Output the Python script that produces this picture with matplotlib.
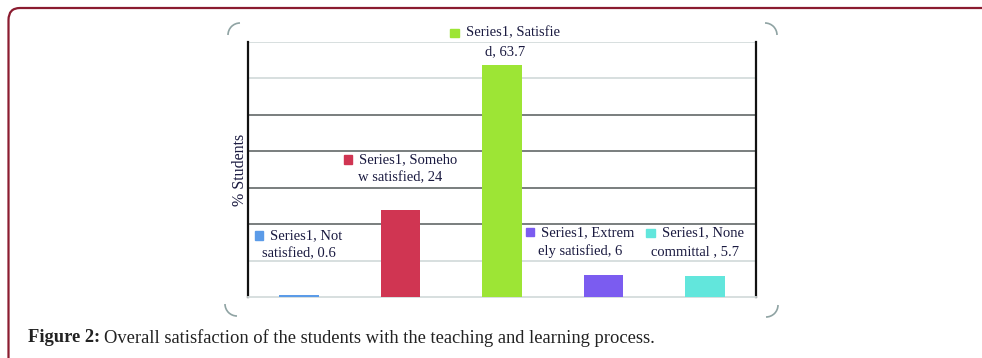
import matplotlib.pyplot as plt
from matplotlib.patches import Arc, Rectangle
from matplotlib.path import Path
from matplotlib.patches import PathPatch
from matplotlib.offsetbox import (AnnotationBbox, DrawingArea, HPacker,
                                  TextArea, VPacker)

# Survey results: share of students per satisfaction level
categories = ['Not satisfied', 'Somehow satisfied', 'Satisfied',
              'Extremely satisfied', 'None committal']
percent = [0.6, 24, 63.7, 6, 5.7]
series_name = 'Series1'
label_lines = [
    ('Series1, Not', 'satisfied, 0.6'),
    ('Series1, Someho', 'w satisfied, 24'),
    ('Series1, Satisfie', 'd, 63.7'),
    ('Series1, Extrem', 'ely satisfied, 6'),
    ('Series1, None', 'committal , 5.7'),
]
label_pos = [(0.0, 14.3), (1.0, 35.2), (2.03, 70.0), (2.77, 15.1), (3.9, 15.1)]
colors = ['#5b9be8', '#d03552', '#9de535', '#7b5cf0', '#62e6dc']
y_ticks = [0, 10, 20, 30, 40, 50, 60, 70]

W, H = 982, 358
fig = plt.figure(figsize=(W / 100, H / 100), dpi=100)

# background layer in pixel coordinates for the frame and caption
bg = fig.add_axes([0, 0, 1, 1], zorder=0)
bg.set_xlim(0, W)
bg.set_ylim(H, 0)
bg.axis('off')

frame = Path([(8.5, H), (8.5, 20), (8.5, 8), (20, 8), (W, 8)],
             [Path.MOVETO, Path.LINETO, Path.CURVE3, Path.CURVE3, Path.LINETO])
bg.add_patch(PathPatch(frame, fill=False, edgecolor='#8b1c30', lw=1.6))

# rounded corners of the chart area
for (cx, cy, t1, t2) in [(240, 35, 180, 270), (765, 35, 270, 360),
                         (237, 304, 90, 180), (766, 305, 0, 90)]:
    bg.add_patch(Arc((cx, cy), 24, 24, theta1=t1, theta2=t2,
                     color='#8fa3a3', lw=1.2))

# caption
cap_y = 338
cap_font = dict(family='Liberation Serif', fontsize=13.3, color='#222222')
bold = bg.text(28, cap_y, 'Figure 2:', fontweight='bold', va='center',
               **cap_font)
r = fig.canvas.get_renderer()
bb = bold.get_window_extent(renderer=r)
bg.text(bb.x1 + 4, H - cap_y, 'Overall satisfaction of the students with the '
        'teaching and learning process.', transform=None, va='center',
        **cap_font)

# bar chart
ax = fig.add_axes([248 / W, (H - 297) / H, 508 / W, 255 / H], zorder=1)
ax.patch.set_alpha(0)
x = list(range(len(categories)))
ax.bar(x, percent, width=0.39, color=colors, zorder=3)
ax.set_xlim(-0.5, len(categories) - 0.5)
ax.set_ylim(0, 70)

for v in y_ticks[1:]:
    c = '#6e7474' if 20 <= v <= 50 else '#d4dcdc'
    ax.axhline(v, color=c, lw=1.3, zorder=1)

ax.set_xticks([])
ax.set_yticks([])
ax.spines['top'].set_visible(False)
ax.spines['bottom'].set_color('#d4dcdc')
ax.spines['bottom'].set_linewidth(1.3)
for s in ['left', 'right']:
    ax.spines[s].set_color('#111111')
    ax.spines[s].set_linewidth(1.6)
ax.set_ylabel('% Students', family='Liberation Serif', fontsize=11.5,
              color='#1a1a40', labelpad=0)

# data labels with a colour key square
lab_font = dict(family='Liberation Serif', fontsize=10.5, color='#1a1a40')
for (l1, l2), (lx, ly), col in zip(label_lines, label_pos, colors):
    da = DrawingArea(6, 6, 0, 0)
    da.add_artist(Rectangle((0, 0), 6, 6, color=col))
    t1 = TextArea(l1, textprops=lab_font)
    t2 = TextArea(l2, textprops=lab_font)
    row = HPacker(children=[da, t1], align='center', pad=0, sep=5)
    box = VPacker(children=[row, t2], align='center', pad=0, sep=4)
    ab = AnnotationBbox(box, (lx, ly), xycoords='data', frameon=False,
                        box_alignment=(0.5, 0.5), annotation_clip=False,
                        zorder=4)
    ax.add_artist(ab)

fig.savefig('out.png', dpi=100)
